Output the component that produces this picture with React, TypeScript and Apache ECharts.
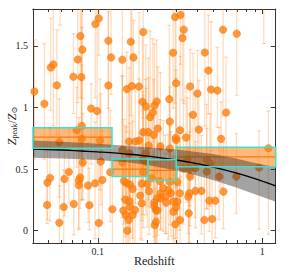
import React, { useEffect, useRef } from "react";
import * as echarts from "echarts";

// ---- data ----
const pointZ = [
  0.0412, 0.0474, 0.0518, 0.0537, 0.0564, 0.0711, 0.0756, 0.0784, 0.0806, 0.0795,
  0.0745, 0.080, 0.0911, 0.099, 0.0967, 0.1014, 0.116, 0.1205, 0.116, 0.141,
  0.150, 0.1587, 0.1646, 0.161, 0.178, 0.189, 0.187, 0.196, 0.208, 0.189,
  0.203, 0.295, 0.318, 0.333, 0.327, 0.287, 0.299, 0.364, 0.403, 0.447,
  0.47, 0.488, 0.533, 0.577, 0.699, 0.602, 0.379, 0.272, 0.274, 0.316,
  0.411, 0.344, 0.299, 0.561, 0.221, 0.228, 0.216, 0.2315, 0.219, 0.0584,
  0.080, 0.0811, 0.1043, 0.119, 0.0667, 0.0494, 0.0513, 0.0627, 0.0781, 0.0767,
  0.0767, 0.0873, 0.0963, 0.1066, 0.0492, 0.0621, 0.0715, 0.0889, 0.1227, 0.0584,
  0.1014, 0.141, 0.141, 0.144, 0.143, 0.148, 0.154, 0.151, 0.147, 0.156,
  0.157, 0.163, 0.1685, 0.163, 0.181, 0.185, 0.189, 0.196, 0.204, 0.178,
  0.155, 0.169, 0.240, 0.274, 0.298, 0.196, 0.350, 0.459, 0.481, 0.331,
  0.362, 0.39, 0.459, 0.546, 0.695, 0.364, 1.088, 0.955, 0.58, 0.426,
  0.392, 0.36, 0.315, 0.278, 0.2685, 0.25, 0.241, 0.241, 0.2575, 0.476,
  0.518, 0.355, 0.3045, 0.288, 0.26, 0.23, 0.22, 0.225, 0.22, 0.288,
  0.316, 0.296, 0.444, 0.495, 0.357, 0.222, 0.226, 0.213, 0.2, 0.188,
  0.149, 0.157, 0.185, 0.205, 0.239, 0.275, 0.3045, 0.299, 0.23, 0.1033,
  0.155, 1.02, 0.059,
];
const pointY = [
  1.13, 1.03, 1.325, 1.35, 1.18, 1.25, 1.39, 1.58, 1.47, 1.247,
  0.816, 0.851, 0.992, 0.971, 1.678, 1.724, 1.542, 1.407, 1.179, 1.388,
  1.15, 1.534, 1.407, 1.174, 1.171, 1.613, 1.046, 1.008, 0.922, 0.80,
  0.80, 1.735, 1.751, 1.632, 1.564, 1.445, 1.198, 1.171, 1.114, 1.447,
  1.30, 1.146, 1.138, 1.632, 1.599, 0.959, 0.941, 1.068, 0.886, 0.816,
  0.821, 0.756, 0.737, 0.746, 1.016, 1.049, 0.959, 0.829, 0.776, 0.721,
  0.746, 0.553, 0.561, 0.475, 0.477, 0.39, 0.428, 0.42, 0.431, 0.407,
  0.369, 0.366, 0.385, 0.412, 0.209, 0.193, 0.217, 0.207, 0.174, 0.065,
  0.063, 0.656, 0.556, 0.404, 0.163, 0.128, 0.087, 0.0, 0.252, 0.239,
  0.195, 0.128, 0.168, 0.339, 0.285, 0.223, 0.475, 0.556, 0.691, 0.732,
  0.724, 0.724, 0.683, 0.667, 0.754, 0.629, 0.58, 0.575, 0.548, 0.504,
  0.502, 0.507, 0.48, 0.439, 0.439, 0.439, 0.67, 0.512, 0.317, 0.323,
  0.323, 0.304, 0.304, 0.304, 0.331, 0.345, 0.304, 0.263, 0.276, 0.244,
  0.244, 0.276, 0.236, 0.236, 0.228, 0.263, 0.228, 0.168, 0.2, 0.154,
  0.087, 0.052, 0.087, 0.095, 0.141, 0.046, 0.073, 0.426, 0.38, 0.58,
  0.388, 0.374, 0.382, 0.32, 0.402, 0.396, 0.396, 0.19, 0.163, 0.732,
  0.629, 1.95, 2.0,
];
const errLo = [
  0.55, 0.45, 0.35, 0.5, 0.4, 0.3, 0.35, 0.5, 0.4, 0.7,
  0.3, 0.6, 0.45, 0.6, 0.6, 0.3, 0.55, 0.3, 0.5, 0.8,
  0.35, 0.6, 0.25, 0.55, 0.5, 0.7, 0.5, 0.6, 0.35, 0.4,
  0.55, 0.7, 0.4, 0.6, 0.5, 0.45, 0.6, 0.4, 0.5, 0.6,
  0.35, 0.5, 0.3, 0.7, 0.5, 0.35, 0.4, 0.45, 0.5, 0.45,
  0.5, 0.3, 0.6, 0.4, 0.45, 0.5, 0.4, 0.35, 0.55, 0.45,
  0.5, 0.3, 0.35, 0.4, 0.25, 0.3, 0.35, 0.3, 0.25, 0.4,
  0.35, 0.3, 0.45, 0.35, 0.15, 0.3, 0.25, 0.2, 0.3, 0.2,
  0.25, 0.4, 0.45, 0.35, 0.3, 0.25, 0.2, 0.15, 0.3, 0.25,
  0.3, 0.25, 0.3, 0.4, 0.35, 0.3, 0.45, 0.35, 0.5, 0.4,
  0.45, 0.5, 0.5, 0.45, 0.4, 0.5, 0.35, 0.4, 0.35, 0.45,
  0.3, 0.4, 0.3, 0.35, 0.3, 0.4, 0.7, 0.5, 0.3, 0.35,
  0.3, 0.4, 0.3, 0.35, 0.4, 0.35, 0.3, 0.25, 0.3, 0.25,
  0.3, 0.3, 0.35, 0.3, 0.25, 0.3, 0.35, 0.3, 0.25, 0.3,
  0.2, 0.25, 0.2, 0.3, 0.25, 0.2, 0.25, 0.4, 0.35, 0.45,
  0.3, 0.35, 0.3, 0.35, 0.3, 0.35, 0.3, 0.25, 0.3, 0.4,
  0.35, 0.43, 0.33,
];
const errHi = [
  0.42, 0.49, 0.4, 0.6, 0.45, 0.35, 0.6, 0.5, 0.55, 0.6,
  0.35, 0.8, 0.2, 0.9, 0.5, 0.4, 0.6, 0.5, 0.6, 0.5,
  0.3, 0.3, 0.3, 0.7, 0.6, 0.4, 0.55, 0.5, 0.7, 0.3,
  0.6, 0.3, 0.3, 0.3, 0.4, 0.4, 0.55, 0.3, 0.35, 0.45,
  0.45, 0.55, 0.35, 0.3, 0.4, 0.45, 0.5, 0.6, 0.55, 0.6,
  0.4, 0.4, 0.5, 0.3, 0.5, 0.5, 0.6, 0.5, 0.45, 0.35,
  0.6, 0.4, 0.55, 0.5, 0.35, 0.35, 0.4, 0.25, 0.3, 0.45,
  0.55, 0.35, 0.5, 0.4, 0.2, 0.3, 0.6, 0.3, 0.4, 0.3,
  0.5, 0.6, 0.7, 0.5, 0.4, 0.55, 0.45, 0.35, 0.6, 0.5,
  0.45, 0.5, 0.4, 0.55, 0.5, 0.6, 0.5, 0.6, 0.55, 0.5,
  0.6, 0.45, 0.6, 0.5, 0.55, 0.6, 0.5, 0.45, 0.4, 0.55,
  0.45, 0.6, 0.35, 0.4, 0.35, 0.5, 0.3, 0.3, 0.4, 0.45,
  0.4, 0.5, 0.45, 0.5, 0.45, 0.55, 0.4, 0.45, 0.5, 0.3,
  0.35, 0.4, 0.45, 0.5, 0.4, 0.45, 0.5, 0.4, 0.35, 0.45,
  0.35, 0.4, 0.5, 0.45, 0.4, 0.3, 0.35, 0.5, 0.45, 0.55,
  0.45, 0.5, 0.4, 0.45, 0.5, 0.45, 0.4, 0.4, 0.35, 0.5,
  0.5, 0.3, 0.3,
];

// binned medians
const binZmin = [0.0404, 0.122, 0.202, 0.3];
const binZmax = [0.122, 0.202, 0.3, 1.205];
const binLo = [0.67, 0.44, 0.41, 0.52];
const binHi = [0.835, 0.583, 0.575, 0.678];
const binMid = [0.76, 0.5, 0.49, 0.6];

// fit line and its band
const fitZ = [0.0404, 0.06, 0.08, 0.1, 0.15, 0.2, 0.3, 0.4, 0.5, 0.7, 0.9, 1.205];
const fitY = [0.662, 0.655, 0.647, 0.64, 0.622, 0.605, 0.574, 0.544, 0.517, 0.467, 0.423, 0.363];
const bandHi = [0.732, 0.723, 0.713, 0.706, 0.689, 0.677, 0.659, 0.639, 0.622, 0.585, 0.55, 0.515];
const bandLo = [0.592, 0.587, 0.581, 0.574, 0.555, 0.533, 0.489, 0.449, 0.412, 0.349, 0.296, 0.235];

// axes
const X_MIN = 0.0404;
const X_MAX = 1.205;
const Y_MIN = -0.1;
const Y_MAX = 1.8;
const xMajorTicks = [0.1, 1];
const xMinorTicks = [0.05, 0.06, 0.07, 0.08, 0.09, 0.2, 0.3, 0.4, 0.5, 0.6, 0.7, 0.8, 0.9];
const yTicks = [0, 0.5, 1, 1.5];

const SERIF = "'Liberation Serif', 'DejaVu Serif', serif";
const AXIS_COLOR = "#333";
const ORANGE = "#ff7f0e";

function xAxisDef(position: "bottom" | "top", major: boolean, labels: boolean) {
  return {
    type: "log",
    logBase: 10,
    min: X_MIN,
    max: X_MAX,
    position,
    axisLine: { show: true, onZero: false, lineStyle: { color: AXIS_COLOR, width: 1 } },
    axisTick: {
      show: true,
      inside: true,
      length: major ? 5 : 3,
      customValues: major ? xMajorTicks : xMinorTicks,
      lineStyle: { color: AXIS_COLOR, width: 1 },
    },
    minorTick: { show: false },
    axisLabel: labels
      ? {
          show: true,
          customValues: xMajorTicks,
          formatter: (v: number) => String(v),
          fontFamily: SERIF,
          fontSize: 10,
          color: "#222",
          margin: 3,
        }
      : { show: false },
    splitLine: { show: false },
    name: labels ? "Redshift" : "",
    nameLocation: "middle",
    nameGap: 12,
    nameMoveOverlap: false,
    nameTextStyle: {
      fontFamily: SERIF,
      fontSize: 12,
      fontWeight: "normal",
      color: "#222",
      verticalAlign: "top",
    },
  };
}

function yAxisDef(position: "left" | "right", labels: boolean) {
  return {
    type: "value",
    min: Y_MIN,
    max: Y_MAX,
    position,
    axisLine: { show: true, onZero: false, lineStyle: { color: AXIS_COLOR, width: 1 } },
    axisTick: {
      show: true,
      inside: true,
      length: 5,
      customValues: yTicks,
      lineStyle: { color: AXIS_COLOR, width: 1 },
    },
    axisLabel: labels
      ? {
          show: true,
          customValues: yTicks,
          formatter: (v: number) => String(v),
          fontFamily: SERIF,
          fontSize: 10,
          color: "#222",
          margin: 5,
        }
      : { show: false },
    splitLine: { show: false },
    name: labels ? "{i|Z}{s|peak}{n|/}{i|Z}{s|⊙}" : "",
    nameLocation: "middle",
    nameGap: 15,
    nameMoveOverlap: false,
    nameRotate: 90,
    nameTextStyle: {
      rich: {
        i: { fontFamily: SERIF, fontStyle: "italic", fontSize: 12, color: "#222" },
        n: { fontFamily: SERIF, fontSize: 12, color: "#222" },
        s: { fontFamily: SERIF, fontSize: 8, color: "#222", padding: [5, 0, 0, 0] },
      },
    },
  };
}

export default function App() {
  const ref = useRef<HTMLDivElement>(null);

  useEffect(() => {
    if (!ref.current) return;
    const chart = echarts.init(ref.current, undefined, { renderer: "svg" });

    const points = pointZ.map((z, i) => [z, pointY[i]]);
    const errData = pointZ.map((z, i) => [z, pointY[i], pointY[i] - errLo[i], pointY[i] + errHi[i]]);
    const binData = binZmin.map((z0, i) => [z0, binZmax[i], binLo[i], binHi[i], binMid[i]]);

    const clampY = (v: number, cs: any) => Math.max(cs.y, Math.min(cs.y + cs.height, v));

    chart.setOption({
      animation: false,
      backgroundColor: "#fff",
      grid: {
        left: 33,
        right: 17.3,
        top: 9,
        bottom: 33,
        containLabel: false,
        outerBoundsMode: "none",
      },
      xAxis: [
        xAxisDef("bottom", true, true),
        xAxisDef("bottom", false, false),
        xAxisDef("top", true, false),
        xAxisDef("top", false, false),
      ],
      yAxis: [yAxisDef("left", true), yAxisDef("right", false)],
      series: [
        {
          type: "custom",
          name: "errors",
          z: 1,
          xAxisIndex: 0,
          yAxisIndex: 0,
          data: errData,
          encode: { x: 0, y: [1, 2, 3] },
          renderItem: (params: any, api: any) => {
            const cs = params.coordSys;
            const z = api.value(0);
            const lo = api.value(2);
            const hi = api.value(3);
            const pLo = api.coord([z, lo]);
            const pHi = api.coord([z, hi]);
            const x = pLo[0];
            const yTop = clampY(pHi[1], cs);
            const yBot = clampY(pLo[1], cs);
            const style = { stroke: "rgba(255,140,40,0.3)", lineWidth: 1.3 };
            const children: any[] = [
              { type: "line", shape: { x1: x, y1: yTop, x2: x, y2: yBot }, style },
            ];
            if (pHi[1] >= cs.y && pHi[1] <= cs.y + cs.height) {
              children.push({ type: "line", shape: { x1: x - 2, y1: pHi[1], x2: x + 2, y2: pHi[1] }, style });
            }
            if (pLo[1] >= cs.y && pLo[1] <= cs.y + cs.height) {
              children.push({ type: "line", shape: { x1: x - 2, y1: pLo[1], x2: x + 2, y2: pLo[1] }, style });
            }
            return { type: "group", children };
          },
        },
        {
          type: "scatter",
          name: "points",
          z: 2,
          clip: true,
          data: points,
          symbol: "circle",
          symbolSize: 7.5,
          itemStyle: { color: ORANGE, borderColor: "#f07000", borderWidth: 0.5 },
        },
        {
          type: "custom",
          name: "binFill",
          z: 3,
          data: binData,
          encode: { x: [0, 1], y: [2, 3] },
          renderItem: (params: any, api: any) => {
            const p0 = api.coord([api.value(0), api.value(3)]);
            const p1 = api.coord([api.value(1), api.value(2)]);
            const pm = api.coord([api.value(0), api.value(4)]);
            return {
              type: "group",
              children: [
                {
                  type: "rect",
                  shape: { x: p0[0], y: p0[1], width: p1[0] - p0[0], height: p1[1] - p0[1] },
                  style: { fill: "rgba(255,127,14,0.55)" },
                },
                {
                  type: "line",
                  shape: { x1: p0[0], y1: pm[1], x2: p1[0], y2: pm[1] },
                  style: { stroke: "#f27a10", lineWidth: 1.3 },
                },
              ],
            };
          },
        },
        {
          type: "custom",
          name: "band",
          z: 4,
          data: [[fitZ[0], fitY[0]]],
          renderItem: (params: any, api: any) => {
            const pts: number[][] = [];
            for (let i = 0; i < fitZ.length; i++) pts.push(api.coord([fitZ[i], bandHi[i]]));
            for (let i = fitZ.length - 1; i >= 0; i--) pts.push(api.coord([fitZ[i], bandLo[i]]));
            return { type: "polygon", shape: { points: pts }, style: { fill: "rgba(50,50,50,0.45)" } };
          },
        },
        {
          type: "line",
          name: "fit",
          z: 5,
          data: fitZ.map((z, i) => [z, fitY[i]]),
          symbol: "none",
          smooth: true,
          lineStyle: { color: "#000", width: 1.3 },
        },
        {
          type: "custom",
          name: "binBox",
          z: 6,
          data: binData,
          encode: { x: [0, 1], y: [2, 3] },
          renderItem: (params: any, api: any) => {
            const p0 = api.coord([api.value(0), api.value(3)]);
            const p1 = api.coord([api.value(1), api.value(2)]);
            return {
              type: "rect",
              shape: { x: p0[0], y: p0[1], width: p1[0] - p0[0], height: p1[1] - p0[1] },
              style: { fill: "none", stroke: "#3fe0d0", lineWidth: 1.5 },
            };
          },
        },
      ],
    });

    return () => chart.dispose();
  }, []);

  return (
    <div
      ref={ref}
      style={{ position: "absolute", left: 0, top: 0, width: 293, height: 276, background: "#fff" }}
    />
  );
}
